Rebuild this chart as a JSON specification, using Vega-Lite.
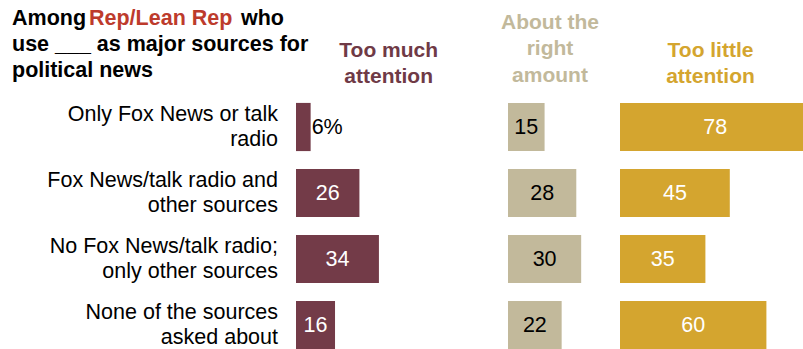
{
  "$schema": "https://vega.github.io/schema/vega-lite/v6.json",
  "padding": 0,
  "background": "white",
  "spacing": 12,
  "bounds": "flush",
  "config": {"view": {"stroke": null}, "font": "Liberation Sans"},
  "datasets": {
    "rows": [
      {"source": "Only Fox News or talk\nradio", "response": "much", "value": 6, "label": "6%"},
      {"source": "Fox News/talk radio and\nother sources", "response": "much", "value": 26, "label": "26"},
      {"source": "No Fox News/talk radio;\nonly other sources", "response": "much", "value": 34, "label": "34"},
      {"source": "None of the sources\nasked about", "response": "much", "value": 16, "label": "16"},
      {"source": "Only Fox News or talk\nradio", "response": "right", "value": 15, "label": "15"},
      {"source": "Fox News/talk radio and\nother sources", "response": "right", "value": 28, "label": "28"},
      {"source": "No Fox News/talk radio;\nonly other sources", "response": "right", "value": 30, "label": "30"},
      {"source": "None of the sources\nasked about", "response": "right", "value": 22, "label": "22"},
      {"source": "Only Fox News or talk\nradio", "response": "little", "value": 78, "label": "78"},
      {"source": "Fox News/talk radio and\nother sources", "response": "little", "value": 45, "label": "45"},
      {"source": "No Fox News/talk radio;\nonly other sources", "response": "little", "value": 35, "label": "35"},
      {"source": "None of the sources\nasked about", "response": "little", "value": 60, "label": "60"}
    ]
  },
  "hconcat": [
    {
      "width": 284,
      "height": 349,
      "layer": [
        {
          "data": {"name": "rows"},
          "transform": [{"filter": "datum.response === 'much'"}],
          "mark": {"type": "text", "align": "right", "baseline": "middle", "lineBreak": "\n", "lineHeight": 25.5, "fontSize": 21.5, "color": "#000000", "dy": -12.5},
          "encoding": {
            "y": {"field": "source", "type": "nominal", "sort": null, "axis": null, "scale": {"range": [94, 358], "paddingInner": 0.27, "paddingOuter": 0.135}},
            "x": {"value": 278},
            "text": {"field": "source"}
          }
        },
        {
          "data": {"values": [{}]},
          "mark": {"type": "text", "text": "Among", "x": 12, "y": 25, "align": "left", "baseline": "alphabetic", "fontSize": 21.5, "fontWeight": "bold", "color": "#000000"}
        },
        {
          "data": {"values": [{}]},
          "mark": {"type": "text", "text": "Rep/Lean Rep", "x": 89, "y": 25, "align": "left", "baseline": "alphabetic", "fontSize": 21.5, "fontWeight": "bold", "color": "#bd3b2c"}
        },
        {
          "data": {"values": [{}]},
          "mark": {"type": "text", "text": "who", "x": 241, "y": 25, "align": "left", "baseline": "alphabetic", "fontSize": 21.5, "fontWeight": "bold", "color": "#000000"}
        },
        {
          "data": {"values": [{}]},
          "mark": {"type": "text", "text": "use ___ as major sources for\npolitical news", "lineBreak": "\n", "lineHeight": 25.5, "x": 12, "y": 51, "align": "left", "baseline": "alphabetic", "fontSize": 21.5, "fontWeight": "bold", "color": "#000000"}
        }
      ]
    },
    {
      "width": 200,
      "height": 349,
      "layer": [
        {
          "data": {"name": "rows"},
          "transform": [{"filter": "datum.response === 'much'"}],
          "mark": {"type": "bar", "color": "#733b48"},
          "encoding": {
            "y": {"field": "source", "type": "nominal", "sort": null, "axis": null, "scale": {"range": [94, 358], "paddingInner": 0.27, "paddingOuter": 0.135}},
            "x": {"field": "value", "type": "quantitative", "axis": null, "scale": {"domain": [0, 82]}}
          }
        },
        {
          "data": {"name": "rows"},
          "transform": [{"filter": "datum.response === 'much' && datum.value >= 10"}],
          "mark": {"type": "text", "color": "#ffffff", "fontSize": 21.5, "baseline": "middle", "align": "center", "dy": 1},
          "encoding": {
            "y": {"field": "source", "type": "nominal", "sort": null, "axis": null, "scale": {"range": [94, 358], "paddingInner": 0.27, "paddingOuter": 0.135}},
            "x": {"field": "value", "type": "quantitative", "axis": null, "scale": {"domain": [0, 164]}},
            "text": {"field": "label"}
          }
        },
        {
          "data": {"name": "rows"},
          "transform": [{"filter": "datum.response === 'much' && datum.value < 10"}],
          "mark": {"type": "text", "color": "#000000", "fontSize": 21.5, "baseline": "middle", "align": "left", "dx": 1, "dy": 1},
          "encoding": {
            "y": {"field": "source", "type": "nominal", "sort": null, "axis": null, "scale": {"range": [94, 358], "paddingInner": 0.27, "paddingOuter": 0.135}},
            "x": {"field": "value", "type": "quantitative", "axis": null, "scale": {"domain": [0, 82]}},
            "text": {"field": "label"}
          }
        },
        {
          "data": {"values": [{}]},
          "mark": {"type": "text", "text": "Too much\nattention", "lineBreak": "\n", "lineHeight": 26.5, "x": 92.7, "y": 56.5, "align": "center", "baseline": "alphabetic", "fontSize": 21, "fontWeight": "bold", "color": "#6f3a46"}
        }
      ],
      "resolve": {"scale": {"x": "independent"}}
    },
    {
      "width": 100,
      "height": 349,
      "layer": [
        {
          "data": {"name": "rows"},
          "transform": [{"filter": "datum.response === 'right'"}],
          "mark": {"type": "bar", "color": "#c2b99b"},
          "encoding": {
            "y": {"field": "source", "type": "nominal", "sort": null, "axis": null, "scale": {"range": [94, 358], "paddingInner": 0.27, "paddingOuter": 0.135}},
            "x": {"field": "value", "type": "quantitative", "axis": null, "scale": {"domain": [0, 41]}}
          }
        },
        {
          "data": {"name": "rows"},
          "transform": [{"filter": "datum.response === 'right'"}],
          "mark": {"type": "text", "color": "#000000", "fontSize": 21.5, "baseline": "middle", "align": "center", "dy": 1},
          "encoding": {
            "y": {"field": "source", "type": "nominal", "sort": null, "axis": null, "scale": {"range": [94, 358], "paddingInner": 0.27, "paddingOuter": 0.135}},
            "x": {"field": "value", "type": "quantitative", "axis": null, "scale": {"domain": [0, 82]}},
            "text": {"field": "label"}
          }
        },
        {
          "data": {"values": [{}]},
          "mark": {"type": "text", "text": "About the\nright\namount", "lineBreak": "\n", "lineHeight": 26.5, "x": 42, "y": 28.5, "align": "center", "baseline": "alphabetic", "fontSize": 21, "fontWeight": "bold", "color": "#c2b99b"}
        }
      ],
      "resolve": {"scale": {"x": "independent"}}
    },
    {
      "width": 183,
      "height": 349,
      "layer": [
        {
          "data": {"name": "rows"},
          "transform": [{"filter": "datum.response === 'little'"}],
          "mark": {"type": "bar", "color": "#d4a52f", "clip": true},
          "encoding": {
            "y": {"field": "source", "type": "nominal", "sort": null, "axis": null, "scale": {"range": [94, 358], "paddingInner": 0.27, "paddingOuter": 0.135}},
            "x": {"field": "value", "type": "quantitative", "axis": null, "scale": {"domain": [0, 75]}}
          }
        },
        {
          "data": {"name": "rows"},
          "transform": [{"filter": "datum.response === 'little'"}],
          "mark": {"type": "text", "color": "#ffffff", "fontSize": 21.5, "baseline": "middle", "align": "center", "dy": 1},
          "encoding": {
            "y": {"field": "source", "type": "nominal", "sort": null, "axis": null, "scale": {"range": [94, 358], "paddingInner": 0.27, "paddingOuter": 0.135}},
            "x": {"field": "value", "type": "quantitative", "axis": null, "scale": {"domain": [0, 150]}},
            "text": {"field": "label"}
          }
        },
        {
          "data": {"values": [{}]},
          "mark": {"type": "text", "text": "Too little\nattention", "lineBreak": "\n", "lineHeight": 26.5, "x": 90.5, "y": 56.5, "align": "center", "baseline": "alphabetic", "fontSize": 21, "fontWeight": "bold", "color": "#d4a52f"}
        }
      ],
      "resolve": {"scale": {"x": "independent"}}
    }
  ]
}
